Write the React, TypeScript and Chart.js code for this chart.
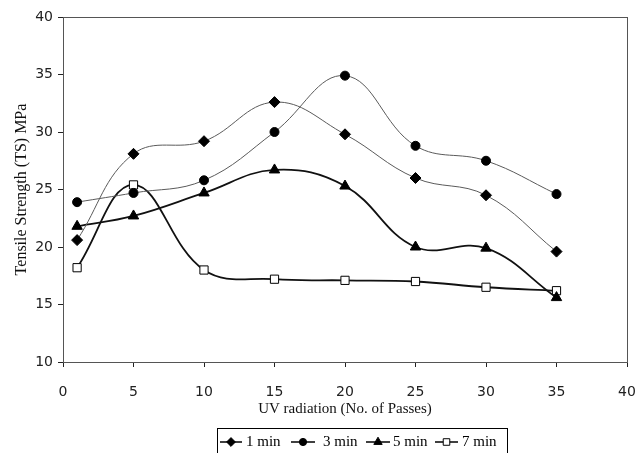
import React, { useEffect, useRef } from "react";
import { Chart, registerables } from "chart.js";

Chart.register(...registerables);

// UV radiation (number of passes)
const passes = [1, 5, 10, 15, 20, 25, 30, 35];
// Tensile strength (MPa) for each exposure time
const ts1min = [20.6, 28.1, 29.2, 32.6, 29.8, 26.0, 24.5, 19.6];
const ts3min = [23.9, 24.7, 25.8, 30.0, 34.9, 28.8, 27.5, 24.6];
const ts5min = [21.8, 22.7, 24.7, 26.7, 25.3, 20.0, 19.9, 15.6];
const ts7min = [18.2, 25.4, 18.0, 17.2, 17.1, 17.0, 16.5, 16.2];
const seriesLabels = ["1 min", "3 min", "5 min", "7 min"];
const xTitle = "UV radiation (No. of Passes)";
const yTitle = "Tensile Strength (TS) MPa";

type Style = {
  line: string;
  width: number;
  point: string;
  radius: number;
  fill: string;
};

const styles: Style[] = [
  { line: "#5a5a5a", width: 1, point: "rectRot", radius: 5.5, fill: "#000000" },
  { line: "#5a5a5a", width: 1, point: "circle", radius: 4.5, fill: "#000000" },
  { line: "#111111", width: 1.8, point: "triangle", radius: 6, fill: "#000000" },
  { line: "#111111", width: 1.8, point: "rect", radius: 5.8, fill: "#ffffff" },
];

function drawMarker(ctx: CanvasRenderingContext2D, kind: string, x: number, y: number, r: number, fill: string) {
  ctx.save();
  ctx.fillStyle = fill;
  ctx.strokeStyle = "#000";
  ctx.lineWidth = 1;
  ctx.beginPath();
  if (kind === "rectRot") {
    ctx.moveTo(x, y - r);
    ctx.lineTo(x + r, y);
    ctx.lineTo(x, y + r);
    ctx.lineTo(x - r, y);
    ctx.closePath();
  } else if (kind === "circle") {
    ctx.arc(x, y, r, 0, Math.PI * 2);
  } else if (kind === "triangle") {
    ctx.moveTo(x, y - r);
    ctx.lineTo(x + r * 0.87, y + r * 0.5);
    ctx.lineTo(x - r * 0.87, y + r * 0.5);
    ctx.closePath();
  } else {
    const s = r * Math.SQRT1_2;
    ctx.rect(x - s, y - s, 2 * s, 2 * s);
  }
  ctx.fill();
  ctx.stroke();
  ctx.restore();
}

const framePlugin = {
  id: "frame",
  beforeDatasetsDraw(chart: any) {
    const { ctx, chartArea } = chart;
    ctx.save();
    ctx.strokeStyle = "#555";
    ctx.lineWidth = 1;
    ctx.strokeRect(chartArea.left + 0.5, chartArea.top + 0.5, chartArea.right - chartArea.left, chartArea.bottom - chartArea.top);
    ctx.restore();
  },
};

const legendPlugin = {
  id: "boxLegend",
  afterDraw(chart: any) {
    const { ctx } = chart;
    const boxLeft = 217;
    const boxTop = 428;
    const boxW = 290;
    const cy = 442;
    ctx.save();
    ctx.strokeStyle = "#000";
    ctx.lineWidth = 1;
    ctx.strokeRect(boxLeft + 0.5, boxTop + 0.5, boxW, 40);
    ctx.font = "15px 'Liberation Serif'";
    ctx.fillStyle = "#000";
    ctx.textBaseline = "middle";
    const items = [
      { x0: 220, x1: 242, tx: 246 },
      { x0: 291, x1: 315, tx: 323 },
      { x0: 366, x1: 390, tx: 393 },
      { x0: 435, x1: 458, tx: 462 },
    ];
    items.forEach((it, i) => {
      const st = styles[i];
      ctx.strokeStyle = "#000";
      ctx.lineWidth = 1.5;
      ctx.beginPath();
      ctx.moveTo(it.x0, cy);
      ctx.lineTo(it.x1, cy);
      ctx.stroke();
      drawMarker(ctx, st.point, (it.x0 + it.x1) / 2, cy, st.radius * 0.8, st.fill);
      ctx.fillStyle = "#000";
      ctx.fillText(seriesLabels[i], it.tx, cy);
    });
    ctx.restore();
  },
};

export default function App() {
  const ref = useRef<HTMLCanvasElement | null>(null);

  useEffect(() => {
    if (!ref.current) return;
    const series = [ts1min, ts3min, ts5min, ts7min];
    const chart = new Chart(ref.current, {
      type: "line",
      data: {
        datasets: series.map((vals, i) => ({
          label: seriesLabels[i],
          data: passes.map((p, j) => ({ x: p, y: vals[j] })),
          borderColor: styles[i].line,
          borderWidth: styles[i].width,
          pointStyle: styles[i].point as any,
          pointRadius: styles[i].radius,
          pointBackgroundColor: styles[i].fill,
          pointBorderColor: "#000",
          pointBorderWidth: 1,
          tension: 0.4,
          fill: false,
        })),
      },
      options: {
        animation: false,
        responsive: false,
        layout: { padding: { left: 0, right: 8, top: 17, bottom: 35 } },
        plugins: {
          legend: { display: false },
          tooltip: { enabled: false },
        },
        scales: {
          x: {
            type: "linear",
            min: 0,
            max: 40,
            ticks: {
              stepSize: 5,
              padding: 17,
              color: "#222",
              font: { family: "'DejaVu Sans'", size: 14 },
            },
            grid: { display: true, drawOnChartArea: false, drawTicks: true, tickLength: 5, color: "#222" },
            border: { display: true, color: "#222", width: 1 },
            title: {
              display: true,
              text: xTitle,
              color: "#111",
              font: { family: "'Liberation Serif'", size: 15 },
              padding: { top: 0, bottom: 0 },
            },
            afterFit: (scale: any) => {
              scale.height = 56;
              scale.paddingLeft = 0;
              scale.paddingRight = 0;
            },
          },
          y: {
            min: 10,
            max: 40,
            ticks: {
              stepSize: 5,
              padding: 5,
              color: "#222",
              font: { family: "'DejaVu Sans'", size: 14 },
            },
            grid: { display: true, drawOnChartArea: false, drawTicks: true, tickLength: 5, color: "#222" },
            border: { display: true, color: "#222", width: 1 },
            title: {
              display: true,
              text: yTitle,
              color: "#111",
              font: { family: "'Liberation Serif'", size: 16 },
              padding: { top: 12, bottom: 0 },
            },
            afterFit: (scale: any) => {
              scale.width = 63;
              scale.paddingTop = 0;
              scale.paddingBottom = 0;
            },
          },
        },
      },
      plugins: [framePlugin, legendPlugin],
    });
    return () => chart.destroy();
  }, []);

  return (
    <div style={{ position: "fixed", left: 0, top: 0, width: 635, height: 453, background: "#fff" }}>
      <canvas ref={ref} width={635} height={453} />
    </div>
  );
}
